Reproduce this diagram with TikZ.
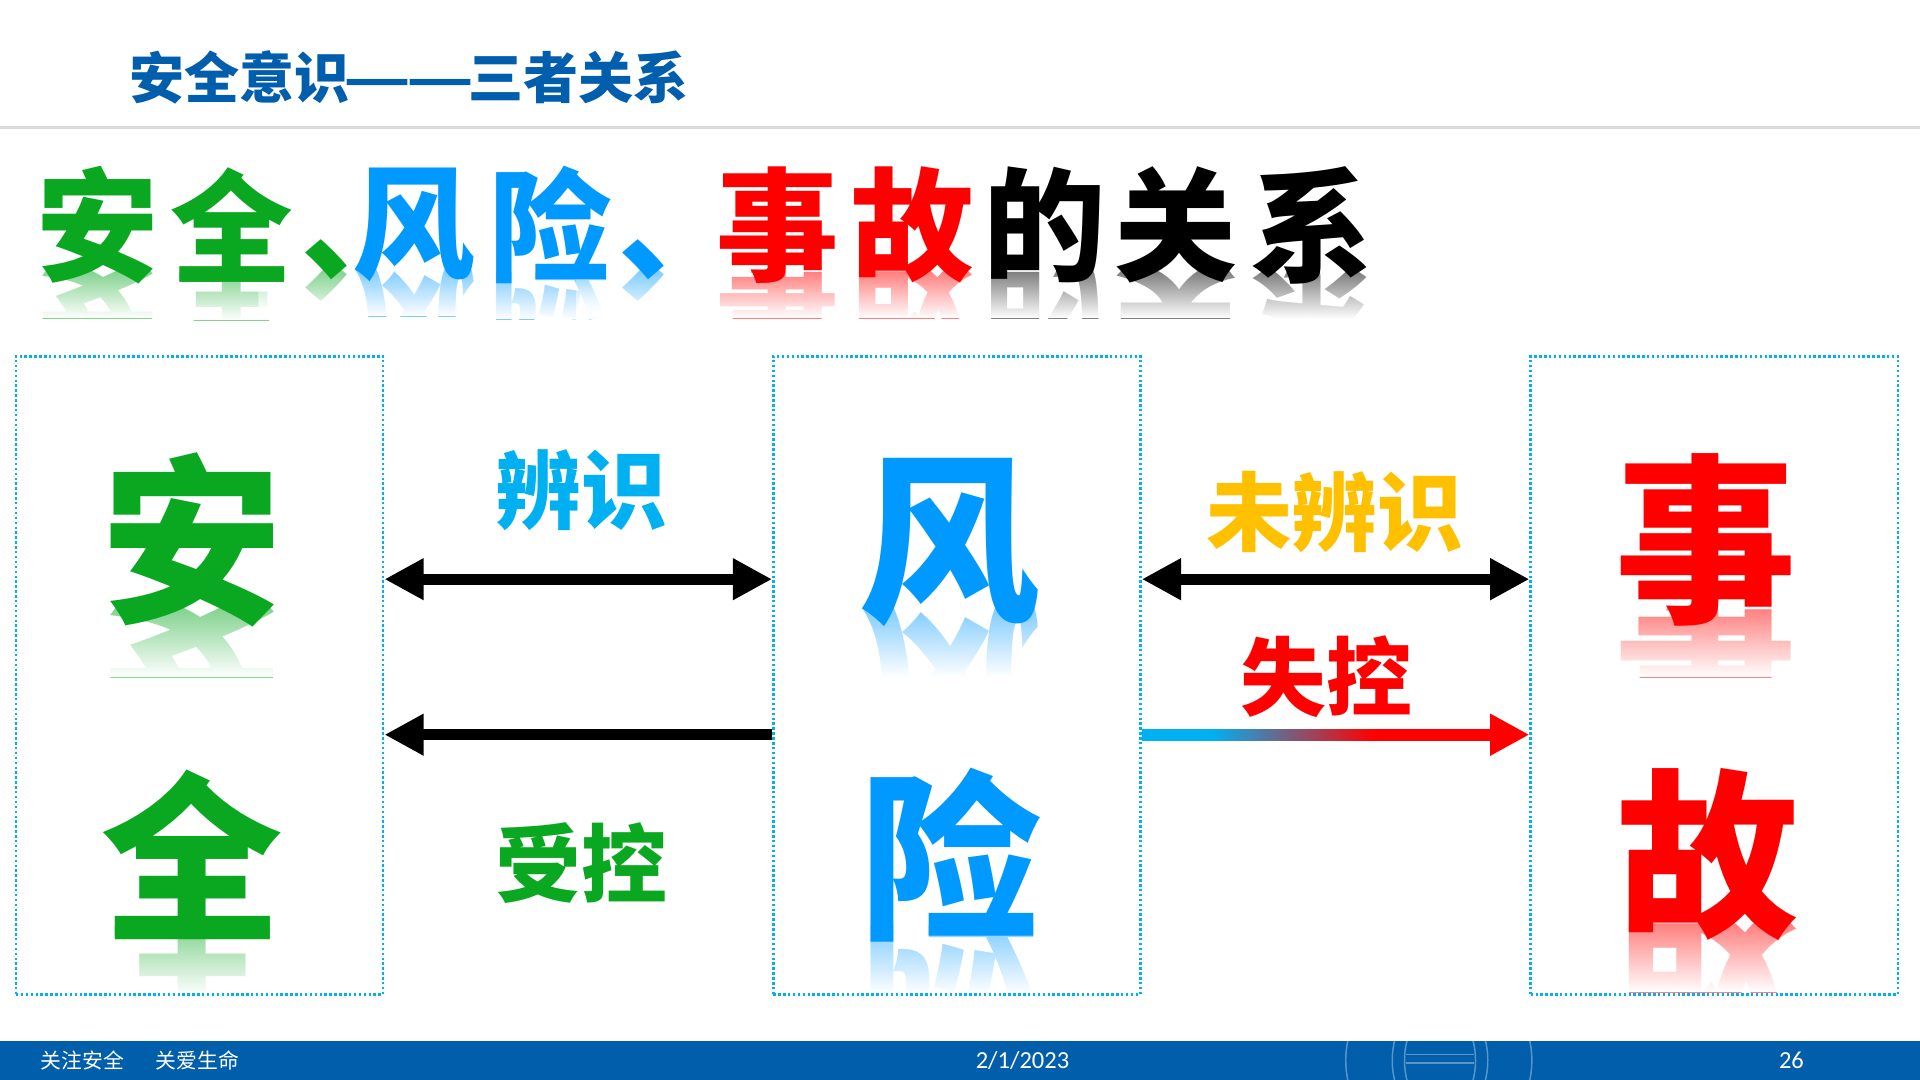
\documentclass[tikz,border=0pt]{standalone}
\usepackage{fontspec}
\usepackage{tikz}
\usetikzlibrary{positioning, calc}
\usetikzlibrary{arrows.meta, fadings}
\newfontfamily\heiti{Noto Sans CJK SC}
\newfontfamily\latinf{Carlito}

\definecolor{titleBlue}{RGB}{0,94,172}
\definecolor{anGreen}{RGB}{9,168,32}
\definecolor{fxBlue}{RGB}{0,153,255}
\definecolor{lblCyan}{RGB}{0,176,240}
\definecolor{lblGold}{RGB}{255,192,0}
\definecolor{sgRed}{RGB}{255,0,0}
\definecolor{barBlue}{RGB}{0,94,170}

\pgfdeclarelayer{backdrop}
\pgfdeclarelayer{refl}
\pgfsetlayers{backdrop,refl,main}

\tikzfading[name=fadedown, top color=transparent!100, bottom color=transparent!0]
\pgfdeclarehorizontalshading{cyanred}{100bp}{color(0bp)=(lblCyan); color(35bp)=(lblCyan); color(58bp)=(sgRed); color(100bp)=(sgRed)}

\tikzset{
  headchar/.style={inner sep=0pt, font=\heiti\bfseries\fontsize{50pt}{50pt}\selectfont},
  bigchar/.style={inner sep=0pt, font=\heiti\bfseries\fontsize{74pt}{74pt}\selectfont},
  lbl/.style={inner sep=0pt, font=\heiti\bfseries\fontsize{35pt}{35pt}\selectfont},
  box/.style={draw=lblCyan, line width=1pt, dash pattern=on 1pt off 1pt,
    minimum width=150pt, minimum height=260.5pt, inner sep=0pt},
  arrowline/.style={line width=4.5pt},
  bothends/.style={{Triangle[length=16pt,width=16pt]}-{Triangle[length=16pt,width=16pt]}},
  oneend/.style={-{Triangle[length=16pt,width=16pt]}}
}

\begin{document}
\begin{tikzpicture}[x=0.5pt, y=-0.5pt]
    \useasboundingbox (0,0) rectangle (1568,882);
    \begin{pgfonlayer}{backdrop}
        \fill[white] (0,0) rectangle (1568,882);
    \end{pgfonlayer}

    % title and rule
    \node[anchor=west, inner sep=0pt, text=titleBlue,
      font=\heiti\bfseries\fontsize{22.5pt}{22.5pt}\selectfont] (title) at (105,63)
      {安全意识\kern-2.5pt\scalebox{1.35}[1]{—}\kern-2pt\scalebox{1.35}[1]{—}\kern-2.5pt三者关系};
    \draw[line width=1pt, black!15] (0,104) -- (1568,104);

    % heading with reflections
    \foreach \ch/\nm/\cx/\cy/\col in {安/h1/80/184/anGreen, 全/h2/189/184/anGreen,
        \makebox[0.42em][l]{、}/h3/267/212/anGreen, 风/h4/338/184/fxBlue, 险/h5/450/184/fxBlue,
        \makebox[0.42em][l]{、}/h6/526/212/fxBlue, 事/h7/635/184/sgRed, 故/h8/745/184/sgRed,
        的/h9/853/184/black, 关/h10/960/184/black, 系/h11/1071/184/black}{
        \node[headchar, text=\col] (\nm) at (\cx,\cy) {\ch};
        \begin{pgfonlayer}{refl}
            \begin{scope}
                \clip ($(\nm.base)+(-56,0)$) rectangle ($(\nm.base)+(56,38)$);
                \node[headchar, yscale=-1, anchor=base, text=\col!50] at (\nm.base) {\ch};
                \fill[white, path fading=fadedown] ($(\nm.base)+(-56,0)$) rectangle ($(\nm.base)+(56,38)$);
            \end{scope}
        \end{pgfonlayer}
    }

    % boxes
    \node[box] (box1) at (163,551.5) {};
    \node[box] (box2) at (781.5,551.5) {};
    \node[box] (box3) at (1400,551.5) {};

    % arrows
    \coordinate (rowA) at (0,473);
    \coordinate (rowB) at (0,600);
    \draw[arrowline, bothends] (box1.east |- rowA) -- (box2.west |- rowA);
    \draw[arrowline, oneend] (box2.west |- rowB) -- (box1.east |- rowB);
    \draw[arrowline, bothends] (box2.east |- rowA) -- (box3.west |- rowA);
    \shade[shading=cyanred] ($(box2.east |- rowB)+(0,-4.5)$) rectangle ($(box3.west |- rowB)+(-30,4.5)$);
    \draw[arrowline, sgRed, oneend] ($(box3.west |- rowB)+(-34,0)$) -- (box3.west |- rowB);

    % labels
    \node[lbl, text=lblCyan] (bianshi) at (475,400) {辨识};
    \node[lbl, text=anGreen] (shoukong) at (475,705) {受控};
    \node[lbl, text=lblGold] (weibianshi) at (1090,418) {未辨识};
    \node[lbl, text=sgRed] (shikong) at (1083,553) {失控};

    % big characters with reflections
    \foreach \ch/\nm/\cx/\cy/\col in {安/an/157/441/anGreen, 全/quan/157/698/anGreen,
        风/feng/775/443/fxBlue, 险/xian/777/698/fxBlue,
        事/shi/1393/441/sgRed, 故/gu/1395/698/sgRed}{
        \node[bigchar, text=\col] (\nm) at (\cx,\cy) {\ch};
        \begin{pgfonlayer}{refl}
            \begin{scope}
                \clip ($(\nm.base)+(-80,0)$) rectangle ($(\nm.base)+(80,56)$);
                \node[bigchar, yscale=-1, anchor=base, text=\col!50] at (\nm.base) {\ch};
                \fill[white, path fading=fadedown] ($(\nm.base)+(-80,0)$) rectangle ($(\nm.base)+(80,56)$);
            \end{scope}
        \end{pgfonlayer}
    }

    % footer
    \fill[barBlue] (0,850) rectangle (1568,882);
    \begin{scope}
        \clip (0,850) rectangle (1568,882);
        \draw[white, opacity=0.35, line width=0.6pt] (1175,866) circle[radius=38pt];
        \draw[white, opacity=0.35, line width=0.6pt] (1176,866) ellipse[x radius=19.5pt, y radius=26pt];
        \draw[white, opacity=0.35, line width=0.6pt] (1176,866) ellipse[x radius=14.5pt, y radius=22pt];
        \draw[white, opacity=0.35, line width=0.6pt] (1148,861) -- (1204,861) (1148,868) -- (1204,868);
    \end{scope}
    \node[anchor=west, inner sep=0pt, text=white, font=\heiti\fontsize{8.5pt}{8.5pt}\selectfont] (slogan) at (33,866) {关注安全\hspace{13pt}关爱生命};
    \node[inner sep=0pt, text=white, font=\latinf\fontsize{10pt}{10pt}\selectfont] (date) at (835,866) {2/1/2023};
    \node[inner sep=0pt, text=white, font=\latinf\fontsize{10pt}{10pt}\selectfont] (page) at (1463,866) {26};
\end{tikzpicture}
\end{document}
